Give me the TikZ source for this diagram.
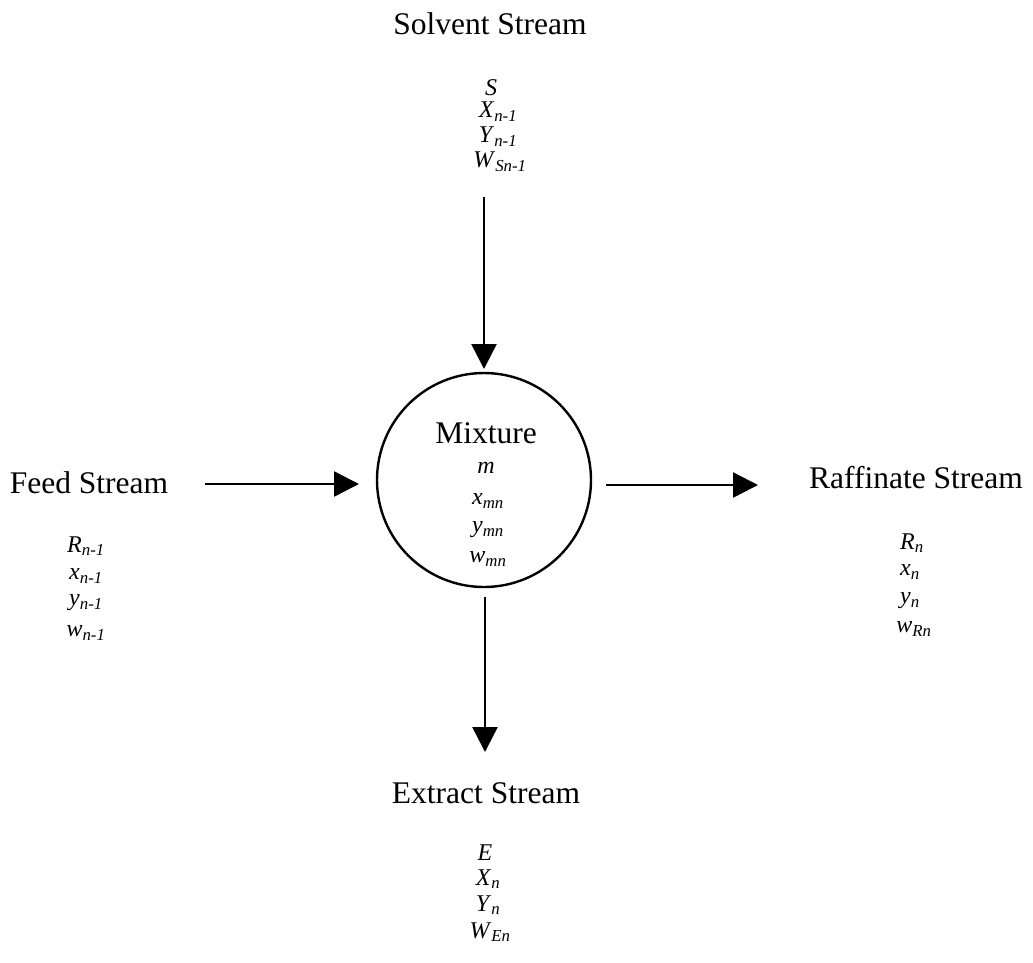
\documentclass[tikz,border=0pt]{standalone}
\usepackage{fontspec}
\setmainfont{Liberation Serif}
\usetikzlibrary{arrows.meta}
\newcommand{\vr}[2]{\textit{#1}\textsubscript{\textit{#2}}}
\begin{document}
\begin{tikzpicture}[x=1pt,y=-1pt,
  title/.style={font=\fontsize{31.5}{36}\selectfont, inner sep=0pt},
  var/.style={font=\fontsize{24}{28}\selectfont, inner sep=0pt},
  flow/.style={line width=2.4pt, -{Triangle[length=25pt,width=25pt]}}]
\useasboundingbox (0,0) rectangle (1033,962);

% central mixing stage
\node[circle, draw, line width=2.4pt, minimum size=214pt, inner sep=0pt] (mix) at (484,480) {};
\node[title] (mixT) at (486,433) {Mixture};
\node[var] (mixm) at (486,468) {\textit{m}};
\node[var] (mixx) at (488,501) {\vr{x}{mn}};
\node[var] (mixy) at (488,530) {\vr{y}{mn}};
\node[var] (mixw) at (488,559) {\vr{w}{mn}};

% solvent stream (top)
\node[title] (solT) at (490,24) {Solvent Stream};
\node[var] (solS) at (491,88) {\textit{S}};
\node[var] (solX) at (498,112) {\vr{X}{n-1}};
\node[var] (solY) at (498,137) {\vr{Y}{n-1}};
\node[var] (solW) at (500,162) {\vr{W}{Sn-1}};
\coordinate (solOut) at (484,197);

% feed stream (left)
\node[title] (feedT) at (89,483) {Feed Stream};
\node[var] (feedR) at (86,546) {\vr{R}{n-1}};
\node[var] (feedx) at (86,576) {\vr{x}{n-1}};
\node[var] (feedy) at (86,603) {\vr{y}{n-1}};
\node[var] (feedw) at (86,633) {\vr{w}{n-1}};
\coordinate (feedOut) at (205,484);

% raffinate stream (right)
\node[title] (rafT) at (916,478) {Raffinate Stream};
\node[var] (rafR) at (912,543) {\vr{R}{n}};
\node[var] (rafx) at (910,572) {\vr{x}{n}};
\node[var] (rafy) at (910,601) {\vr{y}{n}};
\node[var] (rafw) at (914,629) {\vr{w}{Rn}};
\coordinate (rafIn) at (758,485);

% extract stream (bottom)
\node[title] (extT) at (486,793) {Extract Stream};
\node[var] (extE) at (485,853) {\textit{E}};
\node[var] (extX) at (488,879) {\vr{X}{n}};
\node[var] (extY) at (488,905) {\vr{Y}{n}};
\node[var] (extW) at (490,932) {\vr{W}{En}};
\coordinate (extIn) at (485,752);

% flows
\draw[flow] (solOut) -- (mix.north |- 0,369);
\draw[flow] (feedOut) -- (359,484);
\draw[flow] (mix.east |- 0,485) ++(14,0) -- (rafIn);
\draw[flow] (mix.south |- 0,597) ++(1,0) -- (extIn);
\end{tikzpicture}
\end{document}
